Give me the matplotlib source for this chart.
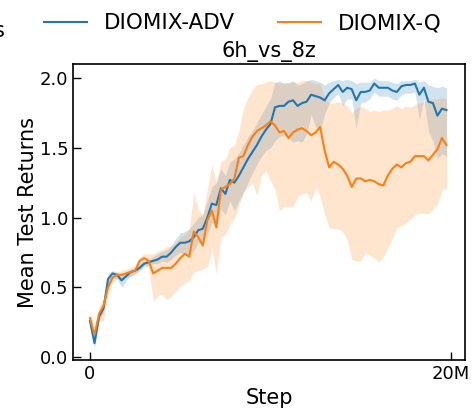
import numpy as np
import matplotlib
matplotlib.use('Agg')
import matplotlib.pyplot as plt

# steps in millions, one eval every 0.25M
steps = np.arange(80) * 0.25

adv_mean = [0.26, 0.10, 0.29, 0.35, 0.56, 0.60, 0.59, 0.55, 0.58, 0.61,
            0.62, 0.64, 0.67, 0.68, 0.69, 0.70, 0.72, 0.72, 0.75, 0.79,
            0.82, 0.82, 0.83, 0.86, 0.91, 0.92, 1.00, 1.10, 1.09, 1.21,
            1.17, 1.27, 1.25, 1.30, 1.36, 1.42, 1.47, 1.52, 1.58, 1.63,
            1.67, 1.79, 1.80, 1.80, 1.83, 1.84, 1.80, 1.82, 1.83, 1.88,
            1.87, 1.86, 1.84, 1.89, 1.92, 1.95, 1.90, 1.93, 1.92, 1.84,
            1.90, 1.90, 1.91, 1.96, 1.93, 1.93, 1.93, 1.91, 1.90, 1.94,
            1.95, 1.95, 1.96, 1.88, 1.93, 1.83, 1.82, 1.73, 1.78, 1.77]
adv_lo = [0.22, 0.07, 0.26, 0.32, 0.53, 0.57, 0.56, 0.50, 0.55, 0.58,
          0.60, 0.62, 0.65, 0.66, 0.67, 0.67, 0.69, 0.68, 0.70, 0.73,
          0.75, 0.74, 0.74, 0.76, 0.82, 0.82, 0.88, 0.96, 0.95, 1.06,
          1.02, 1.12, 1.05, 1.12, 1.18, 1.25, 1.32, 1.38, 1.44, 1.48,
          1.50, 1.55, 1.58, 1.59, 1.57, 1.54, 1.55, 1.54, 1.60, 1.74,
          1.65, 1.63, 1.74, 1.82, 1.86, 1.89, 1.80, 1.85, 1.85, 1.64,
          1.82, 1.83, 1.85, 1.90, 1.87, 1.87, 1.87, 1.85, 1.84, 1.88,
          1.89, 1.89, 1.90, 1.70, 1.85, 1.62, 1.55, 1.42, 1.46, 1.44]
adv_hi = [0.30, 0.14, 0.33, 0.39, 0.60, 0.62, 0.61, 0.59, 0.61, 0.63,
          0.64, 0.67, 0.69, 0.70, 0.72, 0.74, 0.76, 0.77, 0.80, 0.85,
          0.89, 0.90, 0.92, 0.96, 1.00, 1.02, 1.12, 1.22, 1.25, 1.35,
          1.30, 1.40, 1.42, 1.46, 1.52, 1.58, 1.62, 1.68, 1.74, 1.80,
          1.85, 1.97, 1.98, 1.96, 1.97, 1.98, 1.95, 1.96, 1.98, 1.99,
          1.98, 1.97, 1.95, 1.97, 1.98, 1.99, 1.98, 1.99, 1.98, 1.96,
          1.97, 1.97, 1.97, 2.00, 1.98, 1.98, 1.98, 1.97, 1.96, 1.98,
          1.98, 1.98, 1.99, 1.97, 1.98, 1.95, 1.94, 1.93, 1.94, 1.93]

q_mean = [0.28, 0.16, 0.31, 0.37, 0.50, 0.57, 0.59, 0.59, 0.60, 0.61,
          0.62, 0.69, 0.71, 0.69, 0.60, 0.62, 0.64, 0.64, 0.64, 0.67,
          0.71, 0.74, 0.72, 0.90, 0.86, 0.80, 0.98, 1.05, 0.93, 1.20,
          1.22, 1.24, 1.28, 1.43, 1.44, 1.52, 1.58, 1.62, 1.64, 1.66,
          1.69, 1.66, 1.61, 1.62, 1.57, 1.61, 1.63, 1.64, 1.62, 1.59,
          1.61, 1.65, 1.48, 1.36, 1.40, 1.38, 1.35, 1.30, 1.22, 1.28,
          1.28, 1.26, 1.27, 1.26, 1.24, 1.23, 1.30, 1.35, 1.38, 1.36,
          1.39, 1.40, 1.44, 1.44, 1.44, 1.41, 1.45, 1.49, 1.57, 1.52]
q_lo = [0.24, 0.12, 0.26, 0.26, 0.45, 0.54, 0.56, 0.56, 0.57, 0.58,
        0.59, 0.62, 0.66, 0.64, 0.40, 0.44, 0.45, 0.41, 0.44, 0.47,
        0.51, 0.53, 0.55, 0.61, 0.62, 0.63, 0.65, 0.77, 0.60, 0.86,
        0.88, 0.95, 1.00, 1.08, 1.18, 1.22, 1.25, 1.16, 1.30, 1.34,
        1.26, 1.20, 1.05, 1.08, 1.08, 1.08, 1.15, 1.17, 1.18, 1.12,
        1.22, 1.15, 1.02, 0.93, 0.92, 0.92, 0.90, 0.84, 0.70, 0.69,
        0.69, 0.75, 0.73, 0.71, 0.68, 0.72, 0.78, 0.85, 0.93, 0.94,
        0.96, 0.99, 1.02, 1.03, 1.03, 1.03, 1.06, 1.10, 1.20, 1.21]
q_hi = [0.33, 0.20, 0.36, 0.42, 0.56, 0.60, 0.61, 0.62, 0.63, 0.64,
        0.66, 0.72, 0.74, 0.74, 0.74, 0.76, 0.77, 0.79, 0.80, 0.82,
        0.86, 0.88, 0.92, 1.18, 1.05, 1.02, 1.20, 1.38, 1.25, 1.40,
        1.42, 1.50, 1.52, 1.62, 1.78, 1.86, 1.92, 1.95, 1.96, 1.97,
        1.98, 1.97, 1.96, 1.97, 1.96, 1.97, 1.97, 1.98, 1.98, 1.97,
        1.96, 1.96, 1.86, 1.82, 1.82, 1.83, 1.82, 1.80, 1.75, 1.78,
        1.80, 1.78, 1.76, 1.77, 1.76, 1.77, 1.77, 1.78, 1.80, 1.78,
        1.80, 1.79, 1.81, 1.82, 1.83, 1.84, 1.85, 1.85, 1.86, 1.85]

series = [
    ('DIOMIX-ADV', adv_mean, adv_lo, adv_hi, 'tab:blue', 0.2),
    ('DIOMIX-Q', q_mean, q_lo, q_hi, 'tab:orange', 0.2),
]

fig = plt.figure(figsize=(4.76, 4.09), dpi=100)
ax = fig.add_axes([0.1534, 0.1198, 0.8236, 0.7237])

for name, mean, lo, hi, color, alpha in series:
    ax.plot(steps, mean, color=color, linewidth=1.5, label=name)
    ax.fill_between(steps, lo, hi, color=color, alpha=alpha, linewidth=0)

ax.set_xlim(-0.94, 20.78)
ax.set_ylim(-0.02, 2.10)
ax.set_xticks([0, 20])
ax.set_xticklabels(['0', '20M'])
ax.set_yticks([0.0, 0.5, 1.0, 1.5, 2.0])
ax.tick_params(direction='in', labelsize=13, length=6, width=1)
for sp in ax.spines.values():
    sp.set_linewidth(1.2)

ax.set_title('6h_vs_8z', fontsize=15, pad=5)
ax.set_xlabel('Step', fontsize=15, labelpad=4)
ax.set_ylabel('Mean Test Returns', fontsize=15, labelpad=1)

fig.legend(loc='upper center', bbox_to_anchor=(0.51, 1.015), ncol=2,
           frameon=False, fontsize=15.5, handlelength=2.0, columnspacing=2.0)
fig.text(0.009, 0.925, 's', ha='right', va='center', fontsize=15)

plt.savefig('out.png', dpi=100)
